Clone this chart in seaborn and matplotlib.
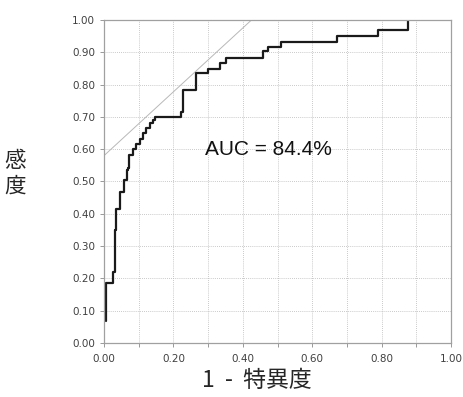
import numpy as np
import pandas as pd
import matplotlib
matplotlib.use('Agg')
import matplotlib.pyplot as plt
from matplotlib.ticker import MultipleLocator, FormatStrFormatter
import seaborn as sns

# ROC curve corner points (step curve, steps-post)
fpr = [0.005, 0.005, 0.025, 0.031, 0.036, 0.045, 0.059, 0.065, 0.069, 0.072,
       0.083, 0.092, 0.105, 0.112, 0.120, 0.133, 0.142, 0.147, 0.221, 0.229,
       0.265, 0.299, 0.334, 0.351, 0.457, 0.473, 0.509, 0.672, 0.790, 0.877,
       0.877]
tpr = [0.068, 0.185, 0.220, 0.349, 0.416, 0.468, 0.505, 0.536, 0.541, 0.583,
       0.600, 0.617, 0.633, 0.650, 0.667, 0.680, 0.690, 0.700, 0.715, 0.782,
       0.836, 0.847, 0.866, 0.882, 0.903, 0.917, 0.932, 0.952, 0.968, 0.980,
       0.997]

# reference (tangent) line
ref_x = [0.0, 0.425]
ref_y = [0.58, 1.0]

auc_text = 'AUC = 84.4%'
x_label = '1  -  特異度'
y_label = '感\n度'

df = pd.DataFrame({'fpr': fpr, 'tpr': tpr})
ref = pd.DataFrame({'x': ref_x, 'y': ref_y})

sns.set_style('white')
plt.rcParams['font.family'] = ['DejaVu Sans']

fig = plt.figure(figsize=(4.63, 3.97), dpi=100)
ax = fig.add_axes([104 / 463, 1 - 343 / 397, 347 / 463, 323 / 397])

sns.lineplot(data=ref, x='x', y='y', ax=ax, color='#b8b8b8', lw=0.7,
             estimator=None, sort=False)
sns.lineplot(data=df, x='fpr', y='tpr', ax=ax, color='#1a1a1a', lw=1.6,
             estimator=None, sort=False, drawstyle='steps-post')

ax.set_xlim(0, 1)
ax.set_ylim(0, 1)
ax.xaxis.set_major_locator(MultipleLocator(0.2))
ax.xaxis.set_minor_locator(MultipleLocator(0.1))
ax.yaxis.set_major_locator(MultipleLocator(0.1))
ax.xaxis.set_major_formatter(FormatStrFormatter('%.2f'))
ax.yaxis.set_major_formatter(FormatStrFormatter('%.2f'))
ax.grid(True, which='both', ls=(0, (1, 1.5)), color='#b8b8b8', lw=0.6)
ax.tick_params(axis='both', which='major', labelsize=7.5, labelcolor='#404040',
               length=3, width=0.7, color='#999999', left=True, bottom=True)
ax.tick_params(axis='x', which='major', pad=5)
ax.tick_params(axis='x', which='minor', length=3, width=0.7, color='#999999',
               bottom=True)
for s in ax.spines.values():
    s.set_color('#a0a0a0')
    s.set_linewidth(0.9)

ax.text(0.29, 0.598, auc_text, fontsize=15, family=['Liberation Sans'],
        va='center', ha='left', color='#111111')

ax.set_xlabel('')
ax.set_ylabel('')
fig.text(257 / 463, 1 - 380 / 397, x_label, fontsize=16.5, ha='center', va='center',
         family=['Noto Sans CJK JP', 'DejaVu Sans'])
fig.text(15 / 463, 1 - 174 / 397, y_label, fontsize=15.5, ha='center', va='center',
         linespacing=1.25, family=['Noto Sans CJK JP', 'DejaVu Sans'])

fig.savefig('out.png', dpi=100)
